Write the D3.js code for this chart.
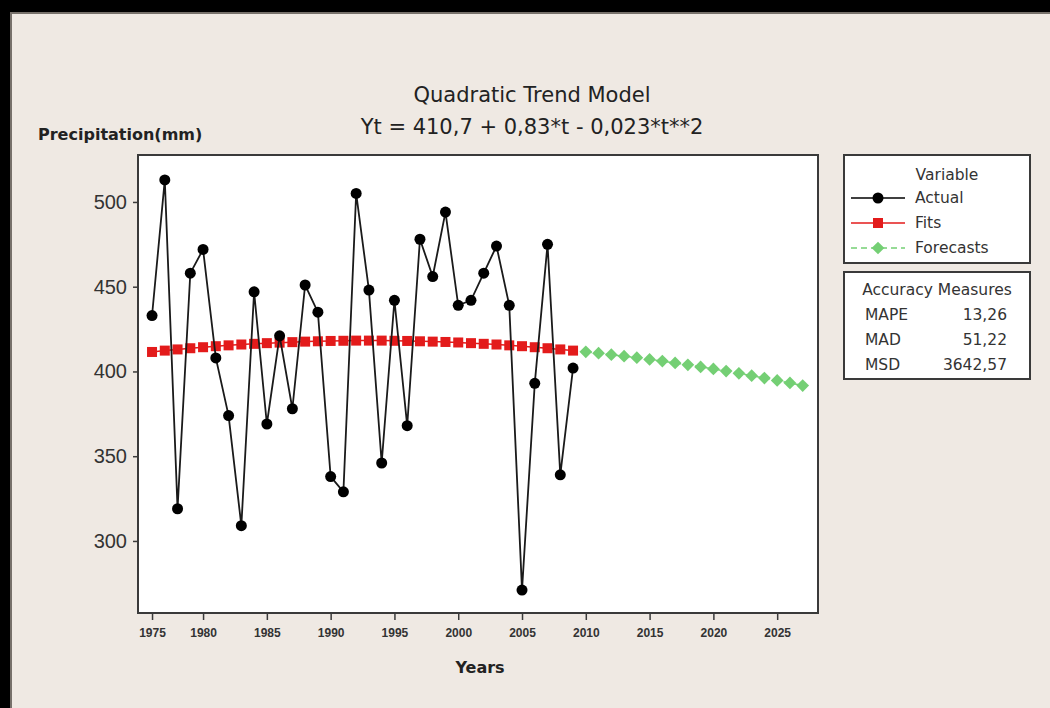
<!DOCTYPE html>
<html>
<head>
<meta charset="utf-8">
<script src="https://cdn.jsdelivr.net/npm/d3@7"></script>
<style>
  html, body { margin: 0; padding: 0; background: #efe9e3; overflow: hidden; }
  svg { display: block; font-family: 'DejaVu Sans', sans-serif; }
</style>
</head>
<body>
<svg></svg>
<script>
const width = 1050;
const height = 708;
const svg = d3.select('svg').attr('width', width).attr('height', height);

// Data (time index t = 1..52)
const actual = [433, 513, 319, 458, 472, 408, 374, 309, 447, 369, 421, 378, 451, 435, 338, 329,
                505, 448, 346, 442, 368, 478, 456, 494, 439, 442, 458, 474, 439, 271, 393, 475, 339, 402];
const fits = [411.5, 412.3, 413.0, 413.7, 414.3, 414.9, 415.4, 415.9, 416.3, 416.7, 417.0, 417.3,
              417.6, 417.8, 418.0, 418.1, 418.2, 418.2, 418.2, 418.1, 418.0, 417.8, 417.6, 417.4,
              417.1, 416.7, 416.3, 415.9, 415.4, 414.9, 414.3, 413.7, 413.0, 412.3];
const forecasts = [411.6, 410.8, 409.9, 409.0, 408.1, 407.1, 406.1, 405.0, 403.9, 402.7, 401.5,
                   400.2, 398.9, 397.5, 396.1, 394.7, 393.2, 391.7];
const xTickIndex = [1, 5, 10, 15, 20, 25, 30, 35, 40, 45, 50];
const xTickLabels = ['1975', '1980', '1985', '1990', '1995', '2000', '2005', '2010', '2015', '2020', '2025'];
const yTicks = [300, 350, 400, 450, 500];
const legendItems = ['Actual', 'Fits', 'Forecasts'];
const accuracyNames = ['MAPE', 'MAD', 'MSD'];
const accuracyValues = ['13,26', '51,22', '3642,57'];

const plot = {left: 138, top: 155, right: 818, bottom: 613};
const red = '#e31b1b';
const green = '#74cf74';

// frame
svg.append('rect').attr('x', 0).attr('y', 0).attr('width', width).attr('height', 12).attr('fill', '#000');
svg.append('rect').attr('x', 0).attr('y', 0).attr('width', 10).attr('height', height).attr('fill', '#000');
svg.append('rect').attr('x', 10).attr('y', 12).attr('width', width - 10).attr('height', 2).attr('fill', '#77716b');
svg.append('rect').attr('x', 10).attr('y', 12).attr('width', 2).attr('height', height).attr('fill', '#77716b');

// Scales
const xScale = d3.scaleLinear().domain([-0.1, 53.2]).range([plot.left, plot.right]);
const yScale = d3.scaleLinear().domain([257.5, 527.7]).range([plot.bottom, plot.top]);

svg.append('rect')
   .attr('x', plot.left).attr('y', plot.top)
   .attr('width', plot.right - plot.left).attr('height', plot.bottom - plot.top)
   .attr('fill', '#fff').attr('stroke', '#3a3a3a').attr('stroke-width', 2);

// Axes
const xAxis = d3.axisBottom(xScale).tickValues(xTickIndex)
                .tickFormat((d, i) => xTickLabels[i]).tickSize(7).tickSizeOuter(0);
const yAxis = d3.axisLeft(yScale).tickValues(yTicks).tickSize(5).tickSizeOuter(0);

const gx = svg.append('g').attr('transform', `translate(0, ${plot.bottom})`).call(xAxis);
gx.select('.domain').remove();
gx.selectAll('line').attr('stroke', '#3a3a3a').attr('stroke-width', 1.5);
gx.selectAll('text').attr('dy', '1.15em').style('font-size', '12px').style('font-weight', 'bold')
  .attr('fill', '#333');

const gy = svg.append('g').attr('transform', `translate(${plot.left}, 0)`).call(yAxis);
gy.select('.domain').remove();
gy.selectAll('line').attr('stroke', '#3a3a3a').attr('stroke-width', 1.5);
gy.selectAll('text').attr('x', -11).style('font-size', '20px').attr('fill', '#333');

// Titles
svg.append('text').attr('x', 532).attr('y', 102).attr('text-anchor', 'middle')
   .style('font-size', '21px').attr('fill', '#222').text('Quadratic Trend Model');
svg.append('text').attr('x', 532).attr('y', 134).attr('text-anchor', 'middle')
   .style('font-size', '21px').attr('fill', '#222').text('Yt = 410,7 + 0,83*t - 0,023*t**2');
svg.append('text').attr('x', 38).attr('y', 140)
   .style('font-size', '16px').style('font-weight', 'bold').attr('fill', '#222').text('Precipitation(mm)');
svg.append('text').attr('x', 480).attr('y', 673).attr('text-anchor', 'middle')
   .style('font-size', '16px').style('font-weight', 'bold').attr('fill', '#222').text('Years');

// Series
const line = d3.line().x(d => xScale(d.t)).y(d => yScale(d.v));
const actualData = actual.map((v, i) => ({t: i + 1, v}));
const fitsData = fits.map((v, i) => ({t: i + 1, v}));
const forecastData = forecasts.map((v, i) => ({t: actual.length + i + 1, v}));

svg.append('path').datum(fitsData).attr('d', line)
   .attr('fill', 'none').attr('stroke', red).attr('stroke-width', 1.5);
svg.append('path').datum(forecastData).attr('d', line)
   .attr('fill', 'none').attr('stroke', green).attr('stroke-width', 1.5).attr('stroke-dasharray', '6,4');

svg.selectAll('.fit').data(fitsData).enter().append('rect').classed('fit', true)
   .attr('x', d => xScale(d.t) - 5).attr('y', d => yScale(d.v) - 5)
   .attr('width', 10).attr('height', 10).attr('fill', red);

// diamond = square rotated 45 degrees
const diamond = d3.symbol().type(d3.symbolSquare).size(81);
svg.selectAll('.fc').data(forecastData).enter().append('path').classed('fc', true)
   .attr('transform', d => `translate(${xScale(d.t)}, ${yScale(d.v)}) rotate(45)`)
   .attr('d', diamond).attr('fill', green);

svg.append('path').datum(actualData).attr('d', line)
   .attr('fill', 'none').attr('stroke', '#1a1a1a').attr('stroke-width', 1.8);
svg.selectAll('.act').data(actualData).enter().append('circle').classed('act', true)
   .attr('cx', d => xScale(d.t)).attr('cy', d => yScale(d.v)).attr('r', 5.5).attr('fill', '#000');

// Legend
const fontSize = '15.5px';
const legend = svg.append('g');
legend.append('rect').attr('x', 844).attr('y', 155).attr('width', 186).attr('height', 108)
      .attr('fill', '#fff').attr('stroke', '#3a3a3a').attr('stroke-width', 2);
legend.append('text').attr('x', 947).attr('y', 180).attr('text-anchor', 'middle')
      .style('font-size', fontSize).attr('fill', '#333').text('Variable');
const legendColors = ['#000', red, green];
legendItems.forEach((name, i) => {
    const y = 198 + i * 25;
    legend.append('line').attr('x1', 851).attr('x2', 905).attr('y1', y).attr('y2', y)
          .attr('stroke', legendColors[i]).attr('stroke-width', 1.5)
          .attr('stroke-dasharray', i === 2 ? '6,4' : null);
    if (i === 0) {
        legend.append('circle').attr('cx', 878).attr('cy', y).attr('r', 5.5).attr('fill', '#000');
    } else if (i === 1) {
        legend.append('rect').attr('x', 873).attr('y', y - 5).attr('width', 10).attr('height', 10).attr('fill', red);
    } else {
        legend.append('path').attr('transform', `translate(878, ${y}) rotate(45)`).attr('d', diamond).attr('fill', green);
    }
    legend.append('text').attr('x', 915).attr('y', y + 5)
          .style('font-size', fontSize).attr('fill', '#333').text(name);
});

// Accuracy box
const acc = svg.append('g');
acc.append('rect').attr('x', 844).attr('y', 272).attr('width', 186).attr('height', 107)
   .attr('fill', '#fff').attr('stroke', '#3a3a3a').attr('stroke-width', 2);
acc.append('text').attr('x', 937).attr('y', 295).attr('text-anchor', 'middle')
   .style('font-size', fontSize).attr('fill', '#333').text('Accuracy Measures');
accuracyNames.forEach((name, i) => {
    const y = 320 + i * 25;
    acc.append('text').attr('x', 865).attr('y', y).style('font-size', fontSize).attr('fill', '#333').text(name);
    acc.append('text').attr('x', 1007).attr('y', y).attr('text-anchor', 'end')
       .style('font-size', fontSize).attr('fill', '#333').text(accuracyValues[i]);
});
</script>
</body>
</html>
